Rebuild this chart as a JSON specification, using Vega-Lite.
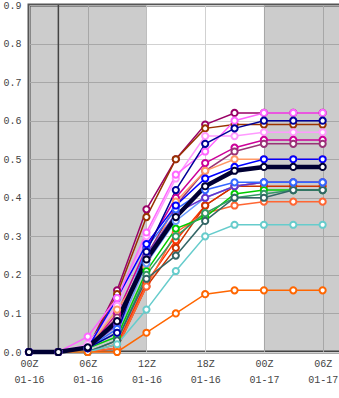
{
  "$schema": "https://vega.github.io/schema/vega-lite/v6.json",
  "width": 323,
  "height": 347,
  "autosize": "none",
  "padding": {"left": 29, "top": 5, "right": 0, "bottom": 46},
  "background": "white",
  "config": {
    "view": {"stroke": "#555555", "strokeWidth": 3},
    "axis": {
      "title": null,
      "domain": false,
      "ticks": false,
      "labelFont": "Liberation Mono",
      "labelFontSize": 10,
      "labelColor": "#444444",
      "gridColor": "#d1d1d1",
      "gridWidth": 1,
      "labelFlush": false,
      "labelOverlap": false
    }
  },
  "datasets": {
    "shade": [{"x0": 0, "x1": 12}, {"x0": 24, "x1": 33}],
    "vline": [{"h": 3}],
    "runs": [
      {"h": 0, "a": 0, "b": 0, "c": 0, "d": 0, "e": 0, "f": 0, "g": 0, "hh": 0, "i": 0, "j": 0, "k": 0, "l": 0, "m": 0, "n": 0, "o": 0, "p": 0, "q": 0, "r": 0, "s": 0, "t": 0, "mean": 0},
      {"h": 3, "a": 0, "b": 0, "c": 0, "d": 0, "e": 0, "f": 0, "g": 0, "hh": 0, "i": 0, "j": 0, "k": 0, "l": 0, "m": 0, "n": 0, "o": 0, "p": 0, "q": 0, "r": 0, "s": 0, "t": 0, "mean": 0},
      {"h": 6, "a": 0.01, "b": 0.01, "c": 0.04, "d": 0.01, "e": 0.02, "f": 0.01, "g": 0.01, "hh": 0.01, "i": 0.01, "j": 0.01, "k": 0.01, "l": 0.01, "m": 0, "n": 0.01, "o": 0, "p": 0, "q": 0, "r": 0, "s": 0, "t": 0, "mean": 0.012},
      {"h": 9, "a": 0.16, "b": 0.15, "c": 0.14, "d": 0.05, "e": 0.12, "f": 0.10, "g": 0.09, "hh": 0.11, "i": 0.14, "j": 0.06, "k": 0.07, "l": 0.05, "m": 0.02, "n": 0.04, "o": 0.03, "p": 0.03, "q": 0.01, "r": 0.01, "s": 0.02, "t": 0.0, "mean": 0.08},
      {"h": 12, "a": 0.37, "b": 0.35, "c": 0.31, "d": 0.26, "e": 0.30, "f": 0.27, "g": 0.25, "hh": 0.22, "i": 0.28, "j": 0.27, "k": 0.25, "l": 0.23, "m": 0.18, "n": 0.21, "o": 0.20, "p": 0.19, "q": 0.17, "r": 0.17, "s": 0.11, "t": 0.05, "mean": 0.24},
      {"h": 15, "a": 0.50, "b": 0.50, "c": 0.46, "d": 0.42, "e": 0.45, "f": 0.40, "g": 0.38, "hh": 0.39, "i": 0.38, "j": 0.37, "k": 0.36, "l": 0.34, "m": 0.29, "n": 0.32, "o": 0.30, "p": 0.25, "q": 0.31, "r": 0.27, "s": 0.21, "t": 0.10, "mean": 0.35},
      {"h": 18, "a": 0.59, "b": 0.58, "c": 0.52, "d": 0.54, "e": 0.56, "f": 0.49, "g": 0.47, "hh": 0.47, "i": 0.45, "j": 0.42, "k": 0.40, "l": 0.40, "m": 0.38, "n": 0.35, "o": 0.36, "p": 0.34, "q": 0.36, "r": 0.38, "s": 0.30, "t": 0.15, "mean": 0.43},
      {"h": 21, "a": 0.62, "b": 0.59, "c": 0.60, "d": 0.58, "e": 0.56, "f": 0.53, "g": 0.52, "hh": 0.50, "i": 0.48, "j": 0.44, "k": 0.43, "l": 0.43, "m": 0.43, "n": 0.41, "o": 0.40, "p": 0.40, "q": 0.38, "r": 0.43, "s": 0.33, "t": 0.16, "mean": 0.47},
      {"h": 24, "a": 0.62, "b": 0.59, "c": 0.62, "d": 0.60, "e": 0.57, "f": 0.55, "g": 0.54, "hh": 0.50, "i": 0.50, "j": 0.44, "k": 0.44, "l": 0.44, "m": 0.44, "n": 0.42, "o": 0.41, "p": 0.40, "q": 0.39, "r": 0.43, "s": 0.33, "t": 0.16, "mean": 0.48},
      {"h": 27, "a": 0.62, "b": 0.59, "c": 0.62, "d": 0.60, "e": 0.57, "f": 0.55, "g": 0.54, "hh": 0.50, "i": 0.50, "j": 0.44, "k": 0.44, "l": 0.44, "m": 0.44, "n": 0.42, "o": 0.42, "p": 0.42, "q": 0.39, "r": 0.43, "s": 0.33, "t": 0.16, "mean": 0.48},
      {"h": 30, "a": 0.62, "b": 0.59, "c": 0.62, "d": 0.60, "e": 0.57, "f": 0.55, "g": 0.54, "hh": 0.50, "i": 0.50, "j": 0.44, "k": 0.44, "l": 0.44, "m": 0.44, "n": 0.42, "o": 0.42, "p": 0.42, "q": 0.39, "r": 0.43, "s": 0.33, "t": 0.16, "mean": 0.48}
    ]
  },
  "layer": [
    {
      "data": {"name": "shade"},
      "mark": {"type": "rect", "color": "black", "opacity": 0.2},
      "encoding": {
        "x": {
          "field": "x0", "type": "quantitative",
          "scale": {"domain": [0, 33], "nice": false, "zero": false},
          "axis": {
            "values": [0, 6, 12, 18, 24, 30],
            "labelExpr": "[(datum.value % 24 < 10 ? '0' : '') + (datum.value % 24) + 'Z', datum.value < 24 ? '01-16' : '01-17']",
            "labelPadding": 6,
            "labelLineHeight": 16,
            "labelAlign": "center",
            "labelBaseline": "top"
          }
        },
        "x2": {"field": "x1"}
      }
    },
    {
      "data": {"name": "vline"},
      "mark": {"type": "rule", "color": "#444444", "strokeWidth": 1.5},
      "encoding": {"x": {"field": "h", "type": "quantitative"}}
    },
    {
      "data": {"name": "runs"},
      "transform": [
        {"fold": ["a", "b", "e", "f", "g", "hh", "m", "r", "q", "n", "o", "p", "s", "t", "l", "k", "j", "i", "c", "d", "mean"], "as": ["run", "v"]}
      ],
      "encoding": {
        "x": {"field": "h", "type": "quantitative"},
        "y": {
          "field": "v", "type": "quantitative",
          "scale": {"domain": [0, 0.9], "nice": false},
          "axis": {"values": [0, 0.1, 0.2, 0.3, 0.4, 0.5, 0.6, 0.7, 0.8, 0.9], "format": ".1f", "labelPadding": 8, "labelOverlap": false}
        },
        "stroke": {"field": "run", "type": "nominal", "legend": null,
          "scale": {
            "domain": ["a", "b", "c", "d", "e", "f", "g", "hh", "i", "j", "k", "l", "m", "n", "o", "p", "q", "r", "s", "t", "mean"],
            "range": ["#990066", "#993300", "#ff66ff", "#000099", "#ff99ff", "#cc0099", "#993377", "#ff9966", "#0000ff", "#3366ff", "#6633cc", "#6699ff", "#ff3300", "#00cc00", "#339966", "#336666", "#ff6633", "#cc3300", "#66cccc", "#ff6600", "#000033"]
          }
        }
      },
      "layer": [
        {
          "transform": [{"filter": "datum.run != 'mean'"}],
          "mark": {"type": "line", "strokeWidth": 1.5}
        },
        {
          "transform": [{"filter": "datum.run == 'mean'"}],
          "mark": {"type": "line", "strokeWidth": 4.5}
        },
        {
          "mark": {"type": "circle", "fill": "white", "fillOpacity": 1, "strokeWidth": 2, "size": 38, "opacity": 1}
        }
      ]
    }
  ]
}
